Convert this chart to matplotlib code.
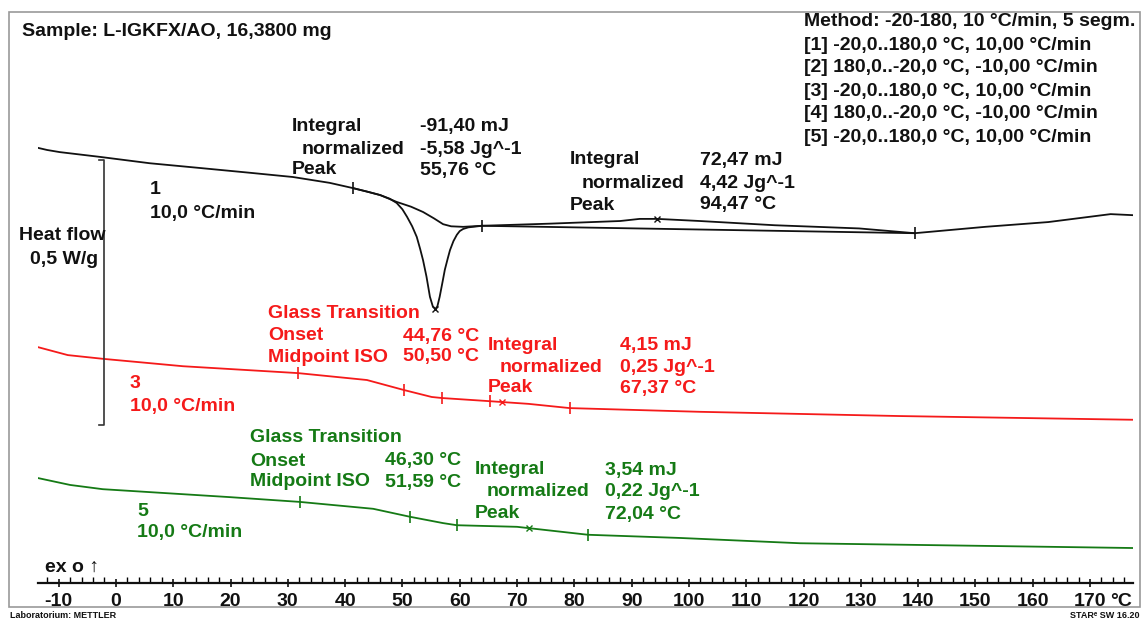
import matplotlib.pyplot as plt
from matplotlib.patches import Rectangle
from matplotlib.lines import Line2D
from matplotlib.ticker import MultipleLocator
import numpy as np

plt.rcParams['font.family'] = ['Liberation Sans', 'DejaVu Sans']
plt.rcParams['font.weight'] = 'bold'

# ---------------- data (temperature in °C, heat flow in W/g, curves shifted) ----------------
# curve 1 (black), first heating
t1 = [-13.6, -12.0, -9.8, -2.8, 5.9, 14.7, 23.4, 30.9, 37.3, 41.4, 44.0, 46.1, 47.8, 49.0,
      50.0, 50.8, 51.7, 52.5, 53.1, 53.6, 54.2, 54.8, 55.3, 55.76, 56.1, 56.5, 57.0, 57.4,
      57.9, 58.3, 58.9, 59.5, 60.0, 60.6, 61.5, 62.3, 63.9, 75.7, 88.0, 91.4, 94.47,
      101.9, 115.0, 129.7, 139.4, 151.7, 162.7, 173.6, 177.5]
hf1 = [0.821, 0.817, 0.813, 0.804, 0.792, 0.783, 0.774, 0.766, 0.755, 0.745, 0.738, 0.732,
       0.725, 0.717, 0.705, 0.691, 0.673, 0.653, 0.630, 0.609, 0.578, 0.540, 0.522, 0.517,
       0.522, 0.540, 0.568, 0.591, 0.612, 0.628, 0.645, 0.657, 0.664, 0.668, 0.671, 0.672,
       0.674, 0.678, 0.683, 0.687, 0.687, 0.683, 0.675, 0.669, 0.660, 0.672, 0.681, 0.696,
       0.694]
# integration baselines of curve 1
tb1 = [41.4, 44.0, 46.1, 49.0, 51.5, 53.6, 55.5, 57.1, 58.5, 60.6, 63.9]
hfb1 = [0.745, 0.738, 0.732, 0.719, 0.710, 0.700, 0.688, 0.677, 0.673, 0.672, 0.674]
tb2 = [63.9, 139.4]
hfb2 = [0.674, 0.660]

# curve 3 (red), second heating
t3 = [-13.6, -8.4, -2.3, 11.7, 31.8, 43.8, 50.3, 55.1, 56.9, 65.3, 72.0, 79.2, 101.9, 136.8, 177.5]
hf3 = [0.445, 0.430, 0.423, 0.409, 0.396, 0.383, 0.364, 0.351, 0.349, 0.343, 0.338, 0.330,
       0.323, 0.315, 0.308]

# curve 5 (green), third heating
t5 = [-13.6, -8.0, -2.3, 19.9, 32.1, 44.9, 51.3, 57.1, 59.5, 70.0, 82.4, 98.4, 119.4, 177.5]
hf5 = [0.198, 0.185, 0.177, 0.162, 0.153, 0.140, 0.125, 0.113, 0.109, 0.106, 0.091, 0.085,
       0.075, 0.066]

# evaluation limits (|) and peaks (x)
lim1 = [41.4, 63.9, 139.4]
peak1 = [55.76, 94.47]
lim3 = [31.8, 50.3, 56.9, 65.3, 79.2]
peak3 = [67.37]
lim5 = [32.1, 51.3, 59.5, 82.4]
peak5 = [72.04]

xticks = list(range(-10, 180, 10))

black = '#111111'
red = '#f51a1a'
green = '#157a15'

W, H = 1143, 619
fig = plt.figure(figsize=(W / 100, H / 100), dpi=100)

def fx(x):
    return x / W

def fy(y):
    return 1 - y / H

ax = fig.add_axes([fx(38), fy(583), fx(1133) - fx(38), fy(12) - fy(583)])
ax.set_xlim(-13.6, 177.5)
ax.set_ylim(0, (583 - 12) / 530)

ax.plot(t1, hf1, color=black, lw=1.3)
ax.plot(tb1, hfb1, color=black, lw=1.3)
ax.plot(tb2, hfb2, color=black, lw=1.3)
ax.plot(t3, hf3, color=red, lw=1.3)
ax.plot(t5, hf5, color=green, lw=1.3)

for t, hf, lims, peaks, c in [(t1, hf1, lim1, peak1, black), (t3, hf3, lim3, peak3, red),
                              (t5, hf5, lim5, peak5, green)]:
    ax.plot(lims, np.interp(lims, t, hf), ls='none', marker='|', ms=9, mew=1.2, color=c)
    ax.plot(peaks, np.interp(peaks, t, hf), ls='none', marker='x', ms=4, mew=1.0, color=c)

for s in ['top', 'right', 'left']:
    ax.spines[s].set_visible(False)
ax.spines['bottom'].set_linewidth(1.6)
ax.spines['bottom'].set_color(black)
ax.set_yticks([])
ax.set_xticks(xticks)
ax.set_xticklabels([str(v) for v in xticks], fontsize=14, fontweight='bold')
ax.xaxis.set_minor_locator(MultipleLocator(2))
ax.tick_params(axis='x', which='major', direction='inout', length=6, width=1.2, pad=4,
               colors=black)
ax.tick_params(axis='x', which='minor', direction='in', length=4, width=1.0)
ax.patch.set_alpha(0)

# frame
fig.patches.append(Rectangle((fx(9), fy(607)), fx(1140) - fx(9), fy(12) - fy(607),
                             transform=fig.transFigure, fill=False, ec='#999999', lw=1.2))

def txt(x, y, s, c=black, size=14, ha='left'):
    fig.text(fx(x), fy(y), s, color=c, fontsize=size, fontweight='bold', ha=ha, va='center')

txt(1110, 602, '°C', size=14)
txt(22, 31, 'Sample: L-IGKFX/AO, 16,3800 mg')

method = ['Method: -20-180, 10 °C/min, 5 segm.',
          '[1] -20,0..180,0 °C, 10,00 °C/min',
          '[2] 180,0..-20,0 °C, -10,00 °C/min',
          '[3] -20,0..180,0 °C, 10,00 °C/min',
          '[4] 180,0..-20,0 °C, -10,00 °C/min',
          '[5] -20,0..180,0 °C, 10,00 °C/min']
for i, m in enumerate(method):
    txt(804, 22 + i * 23, m)

# curve 1 annotations
txt(292, 126, 'Integral'); txt(420, 126, '-91,40 mJ')
txt(302, 149, 'normalized'); txt(420, 149, '-5,58 Jg^-1')
txt(292, 170, 'Peak'); txt(420, 170, '55,76 °C')
txt(570, 160, 'Integral'); txt(700, 160, '72,47 mJ')
txt(582, 183, 'normalized'); txt(700, 183, '4,42 Jg^-1')
txt(570, 205, 'Peak'); txt(700, 205, '94,47 °C')
txt(150, 190, '1'); txt(150, 213, '10,0 °C/min')

# scale bar
txt(62, 236, 'Heat flow', ha='center'); txt(64, 259, '0,5 W/g', ha='center')
fig.add_artist(Line2D([fx(99), fx(104), fx(104), fx(99)], [fy(160), fy(160), fy(425), fy(425)],
                      transform=fig.transFigure, color='#333333', lw=1.2))

# curve 3 annotations
txt(268, 313, 'Glass Transition', red)
txt(268, 336, 'Onset', red); txt(403, 336, '44,76 °C', red)
txt(268, 357, 'Midpoint ISO', red); txt(403, 357, '50,50 °C', red)
txt(488, 345, 'Integral', red); txt(620, 345, '4,15 mJ', red)
txt(500, 367, 'normalized', red); txt(620, 367, '0,25 Jg^-1', red)
txt(488, 388, 'Peak', red); txt(620, 388, '67,37 °C', red)
txt(130, 383, '3', red); txt(130, 407, '10,0 °C/min', red)

# curve 5 annotations
txt(250, 438, 'Glass Transition', green)
txt(250, 461, 'Onset', green); txt(385, 461, '46,30 °C', green)
txt(250, 482, 'Midpoint ISO', green); txt(385, 482, '51,59 °C', green)
txt(475, 470, 'Integral', green); txt(605, 470, '3,54 mJ', green)
txt(487, 492, 'normalized', green); txt(605, 492, '0,22 Jg^-1', green)
txt(475, 514, 'Peak', green); txt(605, 514, '72,04 °C', green)
txt(137, 511, '5', green); txt(137, 533, '10,0 °C/min', green)

txt(45, 567, 'ex o ↑', size=14)
txt(10, 615.5, 'Laboratorium: METTLER', size=6.5)
txt(1140, 615.5, 'STARᵉ SW 16.20', size=6.5, ha='right')

fig.savefig('out.png', dpi=100)
